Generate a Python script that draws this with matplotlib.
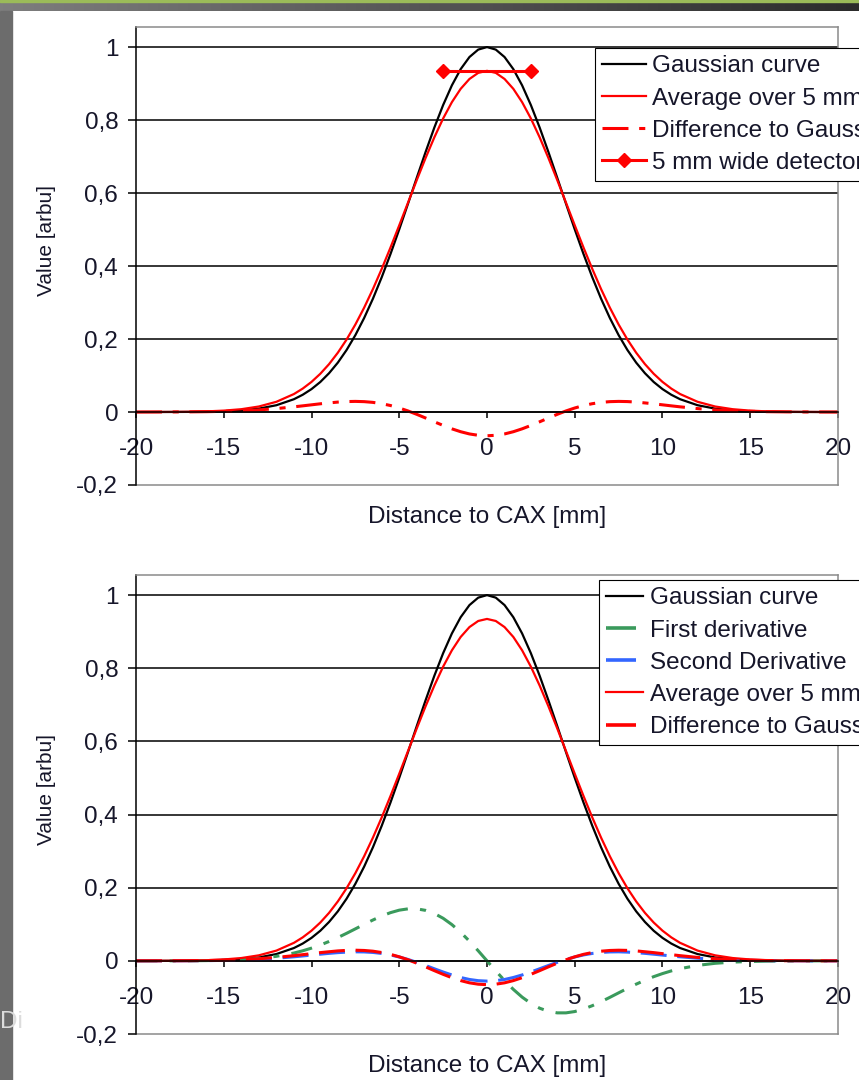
import matplotlib
matplotlib.use("Agg")
import matplotlib.pyplot as plt
import numpy as np
from matplotlib.lines import Line2D
from matplotlib.patches import Rectangle
from matplotlib.colors import LinearSegmentedColormap
from matplotlib.ticker import FuncFormatter

plt.rcParams["font.family"] = ["Liberation Sans", "DejaVu Sans"]
plt.rcParams["axes.unicode_minus"] = False

# distance to CAX [mm]
distance = [-20, -19, -18, -17, -16, -15, -14, -13, -12, -11,
            -10.5, -10, -9.5, -9, -8.5, -8, -7.5, -7, -6.5, -6, -5.5, -5, -4.5, -4, -3.5, -3, -2.5, -2, -1.5, -1, -0.5,
            0,
            0.5, 1, 1.5, 2, 2.5, 3, 3.5, 4, 4.5, 5, 5.5, 6, 6.5, 7, 7.5, 8, 8.5, 9, 9.5, 10, 10.5,
            11, 12, 13, 14, 15, 16, 17, 18, 19, 20]

gaussian = [0.0000, 0.0000, 0.0001, 0.0003, 0.0008, 0.0020, 0.0044, 0.0093, 0.0186, 0.0351,
            0.0473, 0.0628, 0.0822, 0.1063, 0.1353, 0.1700, 0.2107, 0.2576, 0.3105, 0.3692, 0.4328,
            0.5006, 0.5709, 0.6422, 0.7124, 0.7795, 0.8411, 0.8952, 0.9396, 0.9727, 0.9931,
            1.0000,
            0.9931, 0.9727, 0.9396, 0.8952, 0.8411, 0.7795, 0.7124, 0.6422, 0.5709, 0.5006,
            0.4328, 0.3692, 0.3105, 0.2576, 0.2107, 0.1700, 0.1353, 0.1063, 0.0822, 0.0628, 0.0473,
            0.0351, 0.0186, 0.0093, 0.0044, 0.0020, 0.0008, 0.0003, 0.0001, 0.0000, 0.0000]

average_5mm = [0.0000, 0.0001, 0.0003, 0.0007, 0.0017, 0.0038, 0.0077, 0.0151, 0.0280, 0.0493,
               0.0642, 0.0825, 0.1047, 0.1312, 0.1625, 0.1986, 0.2398, 0.2860, 0.3369, 0.3920, 0.4506,
               0.5116, 0.5738, 0.6358, 0.6960, 0.7527, 0.8043, 0.8491, 0.8856, 0.9126, 0.9293,
               0.9349,
               0.9293, 0.9126, 0.8856, 0.8491, 0.8043, 0.7527, 0.6960, 0.6358, 0.5738, 0.5116,
               0.4506, 0.3920, 0.3369, 0.2860, 0.2398, 0.1986, 0.1625, 0.1312, 0.1047, 0.0825, 0.0642,
               0.0493, 0.0280, 0.0151, 0.0077, 0.0038, 0.0017, 0.0007, 0.0003, 0.0001, 0.0000]

difference = [0.0000, 0.0001, 0.0002, 0.0004, 0.0009, 0.0018, 0.0033, 0.0058, 0.0094, 0.0142,
              0.0169, 0.0197, 0.0225, 0.0249, 0.0272, 0.0286, 0.0291, 0.0284, 0.0264, 0.0228, 0.0178,
              0.0110, 0.0029, -0.0064, -0.0164, -0.0268, -0.0368, -0.0461, -0.0540, -0.0601, -0.0638,
              -0.0651,
              -0.0638, -0.0601, -0.0540, -0.0461, -0.0368, -0.0268, -0.0164, -0.0064, 0.0029, 0.0110,
              0.0178, 0.0228, 0.0264, 0.0284, 0.0291, 0.0286, 0.0272, 0.0249, 0.0225, 0.0197, 0.0169,
              0.0142, 0.0094, 0.0058, 0.0033, 0.0018, 0.0009, 0.0004, 0.0002, 0.0001, 0.0000]

first_derivative = [0.0000, 0.0000, 0.0001, 0.0003, 0.0007, 0.0017, 0.0034, 0.0067, 0.0124, 0.0214,
                    0.0275, 0.0348, 0.0432, 0.0530, 0.0637, 0.0753, 0.0875, 0.0998, 0.1117, 0.1226, 0.1318,
                    0.1386, 0.1422, 0.1422, 0.1380, 0.1295, 0.1164, 0.0991, 0.0780, 0.0538, 0.0275,
                    0.0000,
                    -0.0275, -0.0538, -0.0780, -0.0991, -0.1164, -0.1295, -0.1380, -0.1422, -0.1422, -0.1386,
                    -0.1318, -0.1226, -0.1117, -0.0998, -0.0875, -0.0753, -0.0637, -0.0530, -0.0432, -0.0348, -0.0275,
                    -0.0214, -0.0124, -0.0067, -0.0034, -0.0017, -0.0007, -0.0003, -0.0001, 0.0000, 0.0000]

second_derivative = [0.0000, 0.0000, 0.0001, 0.0003, 0.0006, 0.0013, 0.0024, 0.0043, 0.0072, 0.0111,
                     0.0134, 0.0158, 0.0182, 0.0205, 0.0225, 0.0239, 0.0247, 0.0244, 0.0230, 0.0203, 0.0162,
                     0.0106, 0.0038, -0.0041, -0.0127, -0.0217, -0.0305, -0.0386, -0.0455, -0.0509, -0.0542,
                     -0.0554,
                     -0.0542, -0.0509, -0.0455, -0.0386, -0.0305, -0.0217, -0.0127, -0.0041, 0.0038, 0.0106,
                     0.0162, 0.0203, 0.0230, 0.0244, 0.0247, 0.0239, 0.0225, 0.0205, 0.0182, 0.0158, 0.0134,
                     0.0111, 0.0072, 0.0043, 0.0024, 0.0013, 0.0006, 0.0003, 0.0001, 0.0000, 0.0000]

detector_x = [-2.5, 2.5]
detector_y = [0.935, 0.935]

x_ticks = [-20, -15, -10, -5, 0, 5, 10, 15, 20]
y_ticks = [-0.2, 0, 0.2, 0.4, 0.6, 0.8, 1.0]

TEXT = "#16162a"
GRAY = "#8a8a8a"
RED = "#ff0000"
GREEN = "#3a9a5c"
BLUE = "#3366ff"
FS = 17.5

W, H = 859, 1080
fig = plt.figure(figsize=(W / 100, H / 100), dpi=100, facecolor="white")

# slide background around the white panel
strip = fig.add_axes([0, 1 - 11 / H, 1, 11 / H])
cmap = LinearSegmentedColormap.from_list("bar", ["#7e7e7e", "#2c2c2c"])
strip.imshow(np.linspace(0, 1, 256)[None, :], aspect="auto", cmap=cmap, extent=[0, 1, 0, 1])
strip.axhspan(0.82, 1.0, color="#9bbb59")
strip.set_xlim(0, 1)
strip.set_ylim(0, 1)
strip.set_axis_off()
fig.patches.append(Rectangle((0, 0), 12 / W, 1 - 11 / H, transform=fig.transFigure,
                             color="#6c6c6c", zorder=0))
fig.text(0.0, 1 - 1022 / H, "Di", color="#dcdcdc", fontsize=FS, va="center", ha="left")


def comma(v, pos):
    s = f"{v:.1f}".replace(".", ",")
    if s.endswith(",0"):
        s = s[:-2]
    if s == "-0":
        s = "0"
    return s


def style_axes(ax):
    ax.set_xlim(-20, 20)
    ax.set_ylim(-0.2, 1.055)
    ax.set_xticks(x_ticks)
    ax.set_yticks(y_ticks)
    ax.yaxis.set_major_formatter(FuncFormatter(comma))
    ax.spines["bottom"].set_position(("data", 0))
    ax.spines["bottom"].set_color("black")
    ax.spines["left"].set_color("black")
    ax.spines["top"].set_color(GRAY)
    ax.spines["right"].set_color(GRAY)
    for sp in ax.spines.values():
        sp.set_linewidth(1.1)
    ax.axhline(-0.2, color=GRAY, lw=1.1, clip_on=False)
    ax.set_axisbelow(True)
    ax.grid(axis="y", color="black", lw=1.1)
    ax.get_ygridlines()[0].set_visible(False)
    ax.tick_params(axis="x", direction="out", length=4.5, width=1.1, pad=14,
                   labelsize=FS, labelcolor=TEXT)
    ax.tick_params(axis="y", direction="out", length=5.8, width=1.1, pad=7,
                   labelsize=FS, labelcolor=TEXT)
    ax.text(0.5, -0.069, "Distance to CAX [mm]", transform=ax.transAxes,
            ha="center", va="center", fontsize=FS, color=TEXT)
    ax.text(-0.127, 0.533, "Value [arbu]", transform=ax.transAxes, rotation=90,
            ha="center", va="center", fontsize=15, color=TEXT)


legend_style = dict(loc="upper left", bbox_transform=fig.transFigure, borderaxespad=0,
                    fontsize=FS, labelcolor=TEXT, handletextpad=0.25, labelspacing=0.42,
                    borderpad=0.3, fancybox=False, framealpha=1, edgecolor="black")

# top chart
ax1 = fig.add_axes([136 / W, 1 - 485 / H, 702 / W, 458 / H])
style_axes(ax1)
l_g, = ax1.plot(distance, gaussian, color="black", lw=1.6, label="Gaussian curve")
l_a, = ax1.plot(distance, average_5mm, color=RED, lw=1.6, label="Average over 5 mm")
l_d, = ax1.plot(distance, difference, color=RED, lw=2.2, dashes=(8.5, 3.5, 2, 3.5),
                dash_capstyle="butt", label="Difference to Gauss")
l_det, = ax1.plot(detector_x, detector_y, color=RED, lw=2.2, marker="D", ms=7.5,
                  label="5 mm wide detector")
leg1 = ax1.legend(handles=[l_g, l_a, l_d, l_det], bbox_to_anchor=(595 / W, 1 - 48 / H),
                  handlelength=1.78, **legend_style)
leg1.get_frame().set_linewidth(0.8)

# bottom chart
ax2 = fig.add_axes([136 / W, 1 - 1034 / H, 702 / W, 459 / H])
style_axes(ax2)
ax2.plot(distance, gaussian, color="black", lw=1.6)
ax2.plot(distance, first_derivative, color=GREEN, lw=2.2, dashes=(7, 4, 2, 4), dash_capstyle="butt")
ax2.plot(distance, second_derivative, color=BLUE, lw=2.2, dashes=(8.5, 3.5), dash_capstyle="butt")
ax2.plot(distance, average_5mm, color=RED, lw=1.6)
ax2.plot(distance, difference, color=RED, lw=2.2, dashes=(8.5, 3.5), dash_capstyle="butt")

handles2 = [
    Line2D([], [], color="black", lw=1.6),
    Line2D([], [], color=GREEN, lw=2.6, dashes=(0.3, 0.01, 8, 30)),
    Line2D([], [], color=BLUE, lw=2.6, dashes=(0.3, 0.01, 8, 30)),
    Line2D([], [], color=RED, lw=1.6),
    Line2D([], [], color=RED, lw=2.6, dashes=(0.3, 0.01, 8, 30)),
]
labels2 = ["Gaussian curve", "First derivative", "Second Derivative",
           "Average over 5 mm", "Difference to Gauss"]
leg2 = ax2.legend(handles2, labels2, bbox_to_anchor=(599 / W, 1 - 580 / H),
                  handlelength=1.53, **legend_style)
leg2.get_frame().set_linewidth(0.8)

fig.savefig("out.png", dpi=100, facecolor="white")
